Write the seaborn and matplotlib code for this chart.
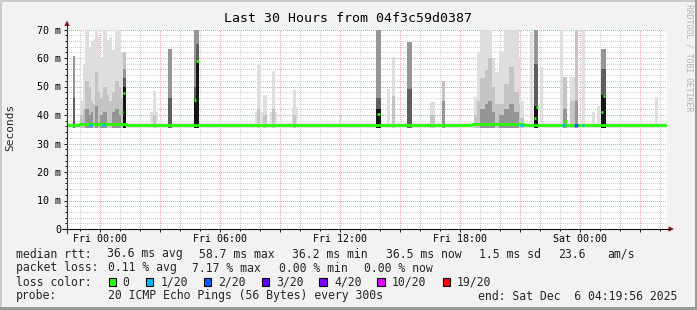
import matplotlib
matplotlib.use("Agg")
import numpy as np
import matplotlib.pyplot as plt
import seaborn as sns
from matplotlib.patches import Rectangle, Polygon
from matplotlib.lines import Line2D
from matplotlib.ticker import FixedLocator, FixedFormatter

# ------------------------------------------------------------------ data
title = "Last 30 Hours from 04f3c59d0387"
x_start, x_end = -1.668, 28.332          # hours relative to Fri 00:00
xmajor_hours = [0, 3, 6, 9, 12, 15, 18, 21, 24, 27]
xtick_labels = ["Fri 00:00", "", "Fri 06:00", "", "Fri 12:00", "",
                "Fri 18:00", "", "Sat 00:00", ""]
ytick_values = [0, 10, 20, 30, 40, 50, 60, 70]
ytick_labels = ["0", "10 m", "20 m", "30 m", "40 m", "50 m", "60 m", "70 m"]

# smoke columns (ms): start/end hour, and tops of the shaded layers (0 = none)
smoke_start = [-1.375, -1.0, -0.885, -0.75, -0.585, -0.485, -0.35, -0.25, -0.115,
               -0.015, 0.115, 0.335, 0.45, 0.585, 0.75, 0.915, 1.05, 1.115,
               2.5, 2.635, 3.4, 4.685, 4.8, 7.75, 7.835, 8.135, 8.5, 8.585,
               9.585, 9.635, 11.915, 13.8, 14.335, 14.585, 15.35, 16.5, 17.085,
               18.665, 18.835, 19.0, 19.25, 19.365, 19.585, 19.75, 19.915, 20.165,
               20.415, 20.665, 20.915, 21.0, 21.5, 21.7, 22.0, 23.0, 23.15, 23.5,
               23.75, 24.1, 24.6, 24.835, 25.035, 27.75]
smoke_end = [-1.25, -0.885, -0.75, -0.585, -0.485, -0.35, -0.25, -0.115, -0.015,
             0.115, 0.335, 0.45, 0.585, 0.75, 0.915, 1.05, 1.115, 1.265,
             2.9, 2.8, 3.6, 4.8, 4.915, 8.15, 8.0, 8.335, 8.85, 8.75,
             9.865, 9.765, 12.085, 14.035, 14.5, 14.75, 15.585, 16.75, 17.25,
             18.835, 19.0, 19.25, 19.365, 19.585, 19.75, 19.915, 20.165, 20.415,
             20.665, 20.915, 21.0, 21.165, 21.65, 21.9, 22.15, 23.15, 23.35, 23.75,
             23.9, 24.25, 24.75, 25.0, 25.3, 27.9]
smoke_max = [60.7, 45, 58, 71, 63.8, 65.6, 66.8, 71, 67.4,
             60.3, 71, 66.2, 67.4, 62.7, 71, 69.7, 62, 62,
             41, 48.5, 63, 71, 71, 41, 58, 47, 41, 55.6,
             42.7, 48.8, 39.7, 71, 49, 60.3, 65.7, 44.5, 52,
             46.4, 61.6, 71, 71, 71, 60, 55.2, 62.5, 71,
             71, 71, 60.3, 45, 69, 71, 56.8, 71, 53.4, 53.4,
             71, 71, 41, 43.2, 63, 46.2]
smoke_upper = [60.7, 40, 42, 52, 50, 45, 44, 55, 48,
               46, 50, 47, 45, 48, 52, 50, 46, 62,
               0, 40, 63, 71, 71, 0, 42, 40, 0, 42,
               0, 40, 0, 71, 0, 46.7, 65.7, 40, 52,
               40, 45, 53, 55.8, 60, 50, 44, 44, 51,
               57, 48, 44, 39, 0, 71, 0, 0, 53.4, 45,
               71, 0, 0, 0, 63, 0]
smoke_mid = [60.7, 0, 0, 42, 40, 41, 0, 43, 0,
             40, 41, 0, 0, 41, 42, 40, 0, 56,
             0, 0, 63, 71, 71, 0, 0, 0, 0, 0,
             0, 0, 0, 71, 0, 0, 65.7, 0, 45,
             0, 0, 42, 44, 45, 41, 0, 40, 42,
             44, 41, 0, 0, 0, 71, 0, 0, 42, 0,
             45, 0, 0, 0, 63, 0]
smoke_inner = [46, 0, 0, 0, 0, 0, 0, 0, 0,
               0, 0, 0, 0, 0, 0, 0, 0, 53,
               0, 0, 46, 50, 65, 0, 0, 0, 0, 0,
               0, 0, 0, 46, 0, 0, 49, 0, 0,
               0, 0, 0, 0, 0, 0, 0, 0, 0,
               0, 0, 0, 0, 0, 58, 0, 0, 0, 0,
               0, 0, 0, 0, 56, 0]
smoke_core = [0, 0, 0, 0, 0, 0, 0, 0, 0,
              0, 0, 0, 0, 0, 0, 0, 0, 50,
              0, 0, 0, 45.6, 59, 0, 0, 0, 0, 0,
              0, 0, 0, 42, 0, 0, 0, 0, 0,
              0, 0, 0, 0, 0, 0, 0, 0, 0,
              0, 0, 0, 0, 0, 43, 0, 0, 0, 0,
              0, 0, 0, 0, 47, 0]
base_smoke_lo, base_smoke_hi = 35.4, 37.3

# median rtt (ms), step values
median_t = [-1.668, -1.05, 1.3, 18.6, 21.2, 28.332]
median_v = [36.5, 36.8, 36.5, 36.7, 36.5, 36.5]
# median values inside spike columns
spike_med_start = [1.05, 1.135, 4.685, 4.8, 13.835, 21.7, 21.785, 23.2, 25.05, 25.135]
spike_med_end = [1.135, 1.215, 4.8, 4.915, 14.0, 21.785, 21.865, 23.335, 25.135, 25.235]
spike_med_value = [41, 47.7, 45.3, 59, 40.4, 38.9, 42.7, 37.8, 41, 46.8]
# steps with packet loss (index into loss colours)
loss_start = [-0.585, 0.085, 21.0, 23.1, 23.7, 24.1]
loss_end = [-0.415, 0.25, 21.135, 23.25, 23.9, 24.2]
loss_level = [1, 1, 1, 1, 2, 1]
loss_colors = ["#26ff00", "#00b8ff", "#0059ff", "#5e00ff", "#7e00ff", "#dd00ff", "#ff0000"]
loss_labels = ["0", "1/20", "2/20", "3/20", "4/20", "10/20", "19/20"]

legend_rtt = [("median rtt:", 16), ("36.6 ms avg", 107), ("58.7 ms max", 199),
              ("36.2 ms min", 292), ("36.5 ms now", 386), ("1.5 ms sd", 479),
              ("23.6", 558), ("am/s", 607)]
legend_loss = [("packet loss:", 16), ("0.11 % avg", 107.5), ("7.17 % max", 192),
               ("0.00 % min", 279), ("0.00 % now", 364)]
legend_probe = [("probe:", 16), ("20 ICMP Echo Pings (56 Bytes) every 300s", 107.5),
                ("end: Sat Dec  6 04:19:56 2025", 478)]

# ------------------------------------------------------------------ style
sns.set_theme(style="white")
plt.rcParams['font.family'] = ['DejaVu Sans Mono', 'DejaVu Sans']
plt.rcParams['lines.scale_dashes'] = False

W, H = 697, 310
fig = plt.figure(figsize=(W / 100, H / 100), dpi=100, facecolor="#f2f2f2")

def fx(x):
    return x / W

def fy(y):
    return 1 - y / H

ax_left, ax_right, ax_top, ax_bot = 67, 667, 29.5, 229
ax = fig.add_axes([fx(ax_left), fy(ax_bot), (ax_right - ax_left) / W, (ax_bot - ax_top) / H])
ax.set_facecolor("white")
ax.set_xlim(x_start, x_end)
ax.set_ylim(0, 70)
for sp in ax.spines.values():
    sp.set_visible(False)

# baseline smoke
ax.fill_between([x_start, x_end], base_smoke_lo, base_smoke_hi, color="#e0e0e0", lw=0, zorder=0.8)

s = np.array(smoke_start)
e = np.array(smoke_end)
floor = 35.6
for vals, col in [(smoke_max, "#dedede"), (smoke_upper, "#c4c4c4"), (smoke_mid, "#959595"),
                  (smoke_inner, "#5e5e5e"), (smoke_core, "#161616")]:
    v = np.array(vals, dtype=float)
    m = v > 0
    ax.bar(s[m], np.minimum(v[m], 70.5) - floor, width=(e - s)[m], bottom=floor,
           align="edge", color=col, linewidth=0, zorder=1)

# median line
sns.lineplot(x=median_t, y=median_v, drawstyle="steps-post", color=loss_colors[0],
             linewidth=2.0, ax=ax, zorder=3, solid_capstyle="butt")
ax.hlines([36.6] * len(loss_start), loss_start, loss_end,
          colors=[loss_colors[i] for i in loss_level], lw=2.0, zorder=3.5, capstyle="butt")
ax.hlines(spike_med_value, spike_med_start, spike_med_end, colors=loss_colors[0],
          lw=2.0, zorder=3.5, capstyle="butt")

# grid (drawn below the smoke)
ax.xaxis.set_major_locator(FixedLocator(xmajor_hours))
ax.xaxis.set_major_formatter(FixedFormatter(xtick_labels))
ax.xaxis.set_minor_locator(FixedLocator(list(range(-1, 29))))
ax.yaxis.set_major_locator(FixedLocator(ytick_values))
ax.yaxis.set_major_formatter(FixedFormatter(ytick_labels))
ax.yaxis.set_minor_locator(FixedLocator(list(range(0, 71, 2))))
ax.set_axisbelow(True)
ax.grid(which="minor", color="#d0d0d0", linestyle=(0, (0.72, 1.44)), linewidth=0.72,
        antialiased=False)
ax.grid(which="major", color="#f3a0a0", linestyle=(0, (0.72, 1.44)), linewidth=0.72,
        antialiased=False)
ax.tick_params(axis="both", which="both", direction="out", color="#202020", width=0.72,
               labelsize=7.2, labelcolor="#000000")
ax.tick_params(axis="x", which="major", length=2.2, pad=1.5)
ax.tick_params(axis="x", which="minor", length=1.4)
ax.tick_params(axis="y", which="major", length=2.2, pad=2.0)
ax.tick_params(axis="y", which="minor", length=1.4)
ax.tick_params(bottom=True, left=True, which="both")
ax.set_xlabel("")
ax.set_ylabel("")

# axis lines and arrows
fig.add_artist(Line2D([fx(67), fx(67)], [fy(233), fy(24)], color="#303030", lw=0.8))
fig.add_artist(Line2D([fx(62), fx(670)], [fy(229), fy(229)], color="#101010", lw=0.8))
fig.add_artist(Polygon([(fx(64.3), fy(26)), (fx(69.7), fy(26)), (fx(67), fy(20.5))],
                       closed=True, color="#8b1a1a", lw=0))
fig.add_artist(Polygon([(fx(668.5), fy(226.3)), (fx(668.5), fy(231.7)), (fx(674), fy(229))],
                       closed=True, color="#8b1a1a", lw=0))

# texts
fig.text(fx(348), fy(19), title, ha="center", va="center", size=9.5, color="#000000")
fig.text(fx(10), fy(127), "Seconds", rotation=90, ha="center", va="center", size=8)
fig.text(fx(688.5), fy(4), "RRDTOOL / TOBI OETIKER", rotation=270, ha="center", va="top",
         size=5.9, color="#b4b4b4")

for txt, x in legend_rtt:
    fig.text(fx(x), fy(254), txt, ha="left", va="center", size=8.3)
for txt, x in legend_loss:
    fig.text(fx(x), fy(268), txt, ha="left", va="center", size=8.3)
fig.text(fx(16), fy(282), "loss color:", ha="left", va="center", size=8.3)
box_x = [108.7, 146, 204, 262, 319.3, 377.3, 442.7]
label_x = [122.7, 160.7, 218.3, 276.7, 334.3, 392, 456.5]
for col, lab, bx, lx in zip(loss_colors, loss_labels, box_x, label_x):
    fig.add_artist(Rectangle((fx(bx), fy(285.7)), 7.4 / W, 7.7 / H, facecolor=col,
                             edgecolor="#000000", lw=0.8))
    fig.text(fx(lx), fy(282), lab, ha="left", va="center", size=8.3)
for txt, x in legend_probe:
    fig.text(fx(x), fy(296), txt, ha="left", va="center", size=8.3)

# frame shading
fig.add_artist(Rectangle((0, fy(2)), 1, 2 / H, facecolor="#cbcbcb", lw=0))
fig.add_artist(Rectangle((0, 0), 2 / W, 1, facecolor="#cbcbcb", lw=0))
fig.add_artist(Rectangle((0, 0), 1, 3 / H, facecolor="#999999", lw=0))
fig.add_artist(Rectangle((fx(695), 0), 2 / W, 1, facecolor="#999999", lw=0))

fig.savefig("out.png", dpi=100, facecolor=fig.get_facecolor())
